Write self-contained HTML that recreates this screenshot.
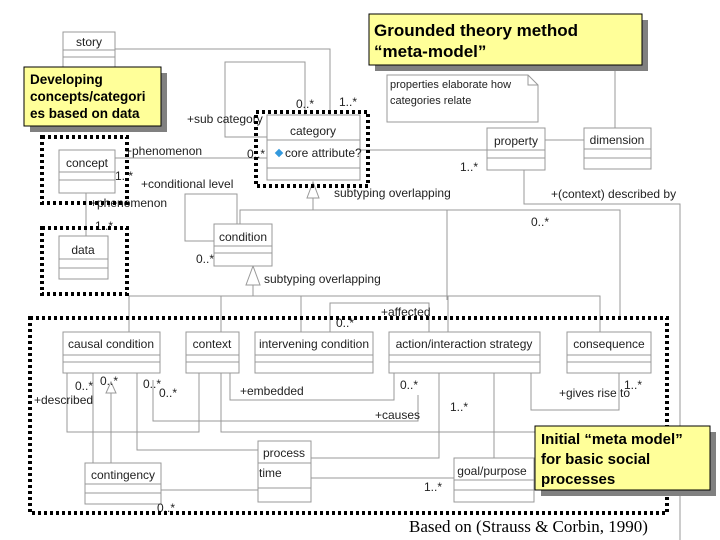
<!DOCTYPE html>
<html><head><meta charset="utf-8"><style>
body{margin:0;background:#fff;}
svg{display:block;font-family:"Liberation Sans",sans-serif;}
.c{fill:#fff;stroke:#999;stroke-width:1}
.l{fill:none;stroke:#999;stroke-width:1}
.t{font-size:12px;fill:#222}
.s{font-size:11px;fill:#222}
.d{fill:none;stroke:#000;stroke-width:4;stroke-dasharray:3 3}
.y{fill:#ffff99;stroke:#000;stroke-width:1}
.sh{fill:#808080}
.b{font-weight:bold;fill:#000}
</style></head><body>
<svg width="720" height="540" viewBox="0 0 720 540">
<!-- connectors -->
<g class="l">
<polyline points="115,49 330,49 330,115"/>
<polyline points="267,137 225,137 225,62 305,62 305,115"/>
<line x1="115" y1="158" x2="267" y2="158"/>
<line x1="86" y1="193" x2="86" y2="236"/>
<polyline points="214,241 185,241 185,194 237,194 237,224"/>
<polyline points="240,224 240,210 620,210 620,318"/>
<line x1="313" y1="198" x2="313" y2="210"/>
<line x1="447" y1="210" x2="447" y2="300"/>
<line x1="360" y1="150" x2="487" y2="150"/>
<line x1="545" y1="140" x2="584" y2="140"/>
<line x1="615" y1="128" x2="615" y2="65"/>
<polyline points="524,170 524,204 680,204 680,540"/>
<line x1="253" y1="285" x2="253" y2="296"/>
<polyline points="129,332 129,296 600,296 600,332"/>
<line x1="221" y1="296" x2="221" y2="332"/>
<line x1="301" y1="296" x2="301" y2="332"/>
<line x1="448" y1="296" x2="448" y2="332"/>
<polyline points="330,332 330,303 429,303 429,332"/>
<polyline points="67,373 67,432 199,432 199,373"/>
<line x1="93" y1="373" x2="93" y2="463"/>
<line x1="111" y1="393" x2="111" y2="463"/>
<polyline points="137,373 137,450 258,450"/>
<polyline points="153,380 153,421 418,421 418,395"/>
<polyline points="221,373 221,432 535,432"/>
<polyline points="230,373 230,400 394,400 394,373"/>
<polyline points="439,373 439,458 311,458"/>
<line x1="494" y1="373" x2="494" y2="458"/>
<polyline points="531,373 531,410 619,410 619,373"/>
<line x1="311" y1="478" x2="454" y2="478"/>
<line x1="161" y1="490" x2="258" y2="490"/>
</g>
<polygon points="313,182 307,198 319,198" class="c"/>
<polygon points="253,266 246,285 260,285" class="c"/>
<polygon points="111,382 106,393 116,393" class="c"/>
<!-- classes -->
<g>
<rect class="c" x="63" y="32" width="52" height="40"/><line class="l" x1="63" y1="50" x2="115" y2="50"/><line class="l" x1="63" y1="57" x2="115" y2="57"/>
<text class="t" x="89" y="46" text-anchor="middle">story</text>
<rect class="c" x="59" y="150" width="56" height="43"/><line class="l" x1="59" y1="172" x2="115" y2="172"/><line class="l" x1="59" y1="180" x2="115" y2="180"/>
<text class="t" x="87" y="167" text-anchor="middle">concept</text>
<rect class="c" x="59" y="236" width="49" height="43"/><line class="l" x1="59" y1="259" x2="108" y2="259"/><line class="l" x1="59" y1="268" x2="108" y2="268"/>
<text class="t" x="83" y="254" text-anchor="middle">data</text>
<rect class="c" x="267" y="115" width="93" height="65"/><line class="l" x1="267" y1="140" x2="360" y2="140"/><line class="l" x1="267" y1="168" x2="360" y2="168"/>
<text class="t" x="313" y="135" text-anchor="middle">category</text>
<rect x="276" y="150" width="6" height="6" fill="#3399dd" transform="rotate(45 279 153)"/>
<text class="t" x="285" y="157">core attribute?</text>
<rect class="c" x="214" y="224" width="58" height="42"/><line class="l" x1="214" y1="246" x2="272" y2="246"/><line class="l" x1="214" y1="253" x2="272" y2="253"/>
<text class="t" x="243" y="241" text-anchor="middle">condition</text>
<rect class="c" x="487" y="128" width="58" height="42"/><line class="l" x1="487" y1="150" x2="545" y2="150"/><line class="l" x1="487" y1="158" x2="545" y2="158"/>
<text class="t" x="516" y="145" text-anchor="middle">property</text>
<rect class="c" x="584" y="128" width="67" height="41"/><line class="l" x1="584" y1="149" x2="651" y2="149"/><line class="l" x1="584" y1="158" x2="651" y2="158"/>
<text class="t" x="617" y="144" text-anchor="middle">dimension</text>
<path class="c" d="M387,75 H528 L538,85 V122 H387 Z"/><path class="l" d="M528,75 V85 H538"/>
<text class="s" x="390" y="88">properties elaborate how</text>
<text class="s" x="390" y="104">categories relate</text>
<rect class="c" x="63" y="332" width="97" height="41"/><line class="l" x1="63" y1="355" x2="160" y2="355"/><line class="l" x1="63" y1="362" x2="160" y2="362"/>
<text class="t" x="111" y="348" text-anchor="middle">causal condition</text>
<rect class="c" x="186" y="332" width="53" height="41"/><line class="l" x1="186" y1="355" x2="239" y2="355"/><line class="l" x1="186" y1="362" x2="239" y2="362"/>
<text class="t" x="212" y="348" text-anchor="middle">context</text>
<rect class="c" x="255" y="332" width="118" height="41"/><line class="l" x1="255" y1="355" x2="373" y2="355"/><line class="l" x1="255" y1="362" x2="373" y2="362"/>
<text class="t" x="314" y="348" text-anchor="middle">intervening condition</text>
<rect class="c" x="389" y="332" width="151" height="41"/><line class="l" x1="389" y1="355" x2="540" y2="355"/><line class="l" x1="389" y1="362" x2="540" y2="362"/>
<text class="t" x="464" y="348" text-anchor="middle">action/interaction strategy</text>
<rect class="c" x="567" y="332" width="84" height="41"/><line class="l" x1="567" y1="355" x2="651" y2="355"/><line class="l" x1="567" y1="362" x2="651" y2="362"/>
<text class="t" x="609" y="348" text-anchor="middle">consequence</text>
<rect class="c" x="85" y="463" width="76" height="41"/><line class="l" x1="85" y1="484" x2="161" y2="484"/><line class="l" x1="85" y1="493" x2="161" y2="493"/>
<text class="t" x="123" y="479" text-anchor="middle">contingency</text>
<rect class="c" x="258" y="441" width="53" height="61"/><line class="l" x1="258" y1="463" x2="311" y2="463"/><line class="l" x1="258" y1="488" x2="311" y2="488"/>
<text class="t" x="284" y="457" text-anchor="middle">process</text>
<text class="t" x="259" y="477">time</text>
<rect class="c" x="454" y="458" width="80" height="44"/><line class="l" x1="454" y1="480" x2="534" y2="480"/><line class="l" x1="454" y1="490" x2="534" y2="490"/>
<text class="t" x="492" y="475" text-anchor="middle">goal/purpose</text>
</g>
<!-- labels -->
<g class="t">
<text x="296" y="108">0..*</text><text x="339" y="106">1..*</text>
<text x="187" y="123">+sub category</text>
<text x="125" y="155">+phenomenon</text><text x="247" y="158">0..*</text>
<text x="115" y="180">1..*</text>
<text x="141" y="188">+conditional level</text>
<text x="90" y="207">+phenomenon</text>
<text x="95" y="230">1..*</text>
<text x="334" y="197">subtyping overlapping</text>
<text x="460" y="171">1..*</text>
<text x="551" y="198">+(context) described by</text>
<text x="531" y="226">0..*</text>
<text x="196" y="263">0..*</text>
<text x="264" y="283">subtyping overlapping</text>
<text x="381" y="316">+affected</text><text x="336" y="327">0..*</text>
<text x="75" y="390">0..*</text><text x="100" y="385">0..*</text>
<text x="34" y="404">+described</text>
<text x="143" y="388">0..*</text><text x="159" y="397">0..*</text>
<text x="240" y="395">+embedded</text>
<text x="400" y="389">0..*</text>
<text x="375" y="419">+causes</text>
<text x="450" y="411">1..*</text>
<text x="559" y="397">+gives rise to</text><text x="624" y="389">1..*</text>
<text x="424" y="491">1..*</text>
<text x="157" y="512">0..*</text>
</g>
<!-- dotted highlight boxes -->
<rect class="d" x="42" y="137" width="85" height="66"/>
<rect class="d" x="42" y="228" width="85" height="66"/>
<rect class="d" x="256" y="112" width="112" height="74"/>
<rect class="d" x="30" y="318" width="637" height="195"/>
<!-- yellow notes -->
<rect class="sh" x="375" y="20" width="273" height="51"/>
<rect class="y" x="369" y="14" width="273" height="51"/>
<text class="b" x="374" y="36" font-size="17">Grounded theory method</text>
<text class="b" x="374" y="57" font-size="17">“meta-model”</text>
<rect class="sh" x="30" y="73" width="137" height="59"/>
<rect class="y" x="24" y="67" width="137" height="59"/>
<text class="b" x="30" y="84" font-size="13.5">Developing</text>
<text class="b" x="30" y="101" font-size="13.5">concepts/categori</text>
<text class="b" x="30" y="118" font-size="13.5">es  based on data</text>
<rect class="sh" x="541" y="432" width="175" height="64"/>
<rect class="y" x="535" y="426" width="175" height="64"/>
<text class="b" x="541" y="444" font-size="15">Initial “meta model”</text>
<text class="b" x="541" y="464" font-size="15">for basic social</text>
<text class="b" x="541" y="484" font-size="15">processes</text>
<text x="409" y="532" font-family="Liberation Serif,serif" font-size="17" fill="#000">Based on (Strauss &amp; Corbin, 1990)</text>
</svg>
</body></html>
